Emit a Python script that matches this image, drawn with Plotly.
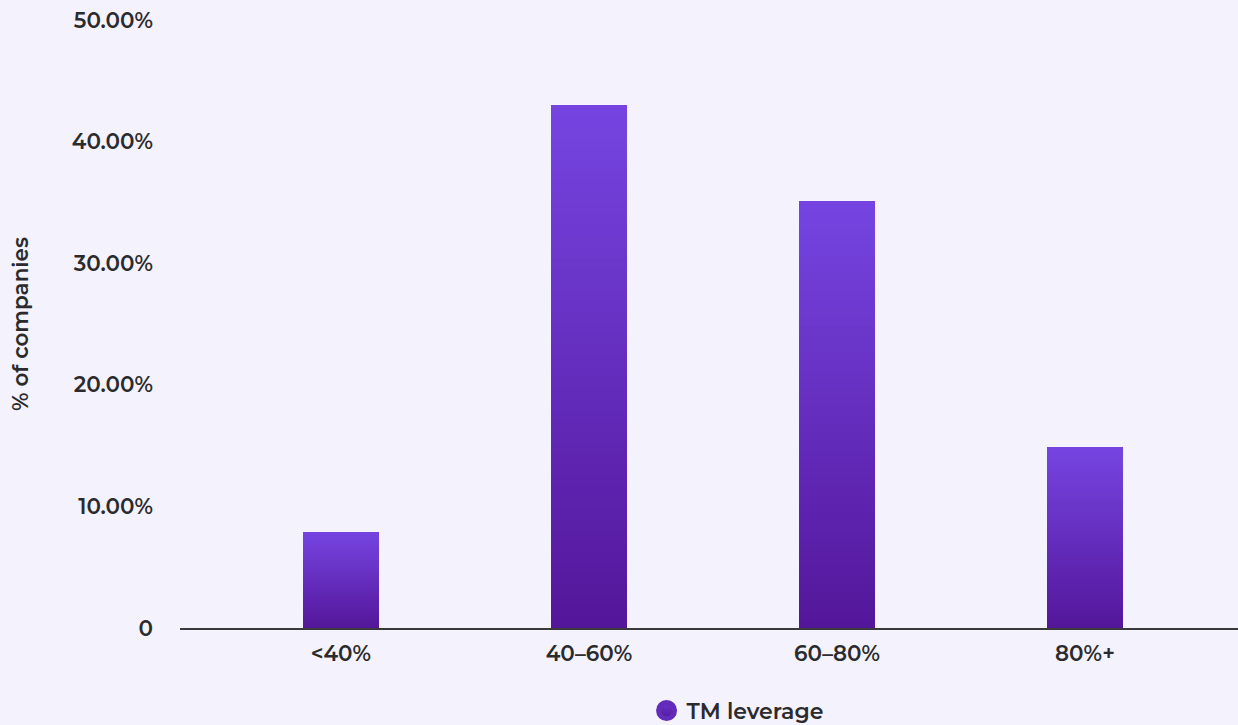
import plotly.graph_objects as go

# Share of companies by TM leverage band
categories = ["<40%", "40–60%", "60–80%", "80%+"]
share_pct = [7.9, 43.0, 35.1, 14.9]
series_name = "TM leverage"

y_tick_vals = [0, 10, 20, 30, 40, 50]
y_tick_text = ["0", "10.00%", "20.00%", "30.00%", "40.00%", "50.00%"]

TOP = (117, 68, 224)
BOTTOM = (84, 23, 155)
BG = "#f4f2fd"
FONT = "Montserrat, Inter, sans-serif"
TEXT = "#2b2b2e"


def mix(t):
    r, g, b = (round(TOP[i] + (BOTTOM[i] - TOP[i]) * t) for i in range(3))
    return f"rgb({r},{g},{b})"


fig = go.Figure()

# Vertical gradient: overlay progressively shorter bars, each a step darker
steps = 48
xs = list(range(len(categories)))
for k in range(steps):
    frac = 1 - k / steps
    fig.add_trace(go.Bar(
        x=xs,
        y=[v * frac for v in share_pct],
        width=0.306,
        marker=dict(color=mix(k / (steps - 1)), line=dict(width=0)),
        showlegend=False,
        hoverinfo="skip" if k else "y",
    ))

# Legend entry with a round swatch
fig.add_trace(go.Scatter(
    x=[None], y=[None], mode="markers", name=series_name,
    marker=dict(size=24, symbol="circle", color=mix(0.3),
                gradient=dict(type="vertical", color=mix(1)),
                line=dict(width=5, color=mix(0.55))),
))

fig.update_layout(
    width=1238, height=725,
    barmode="overlay", bargap=0,
    paper_bgcolor=BG, plot_bgcolor=BG,
    margin=dict(l=180, r=0, t=20, b=97, autoexpand=False),
    font=dict(family=FONT, size=21.5, color=TEXT, weight=600),
    showlegend=True,
    legend=dict(orientation="h", x=0.527, xanchor="center", y=-0.136,
                yanchor="middle", font=dict(size=22, weight=600),
                itemsizing="trace", itemwidth=30,
                bgcolor="rgba(0,0,0,0)"),
    xaxis=dict(
        range=[-0.649, 3.617], tickvals=xs, ticktext=categories,
        showgrid=False, zeroline=False, showline=True,
        linecolor="#3a3a3d", linewidth=1.5, ticks="",
        ticklabelstandoff=5, tickfont=dict(size=21.5),
    ),
    yaxis=dict(
        range=[0, 50], tickvals=y_tick_vals, ticktext=y_tick_text,
        showgrid=False, zeroline=False, showline=False, ticks="",
        ticklabelstandoff=26, tickfont=dict(size=21.5),
        title=dict(text="% of companies", font=dict(size=21.5), standoff=37),
    ),
)

fig.write_html("out.html")
